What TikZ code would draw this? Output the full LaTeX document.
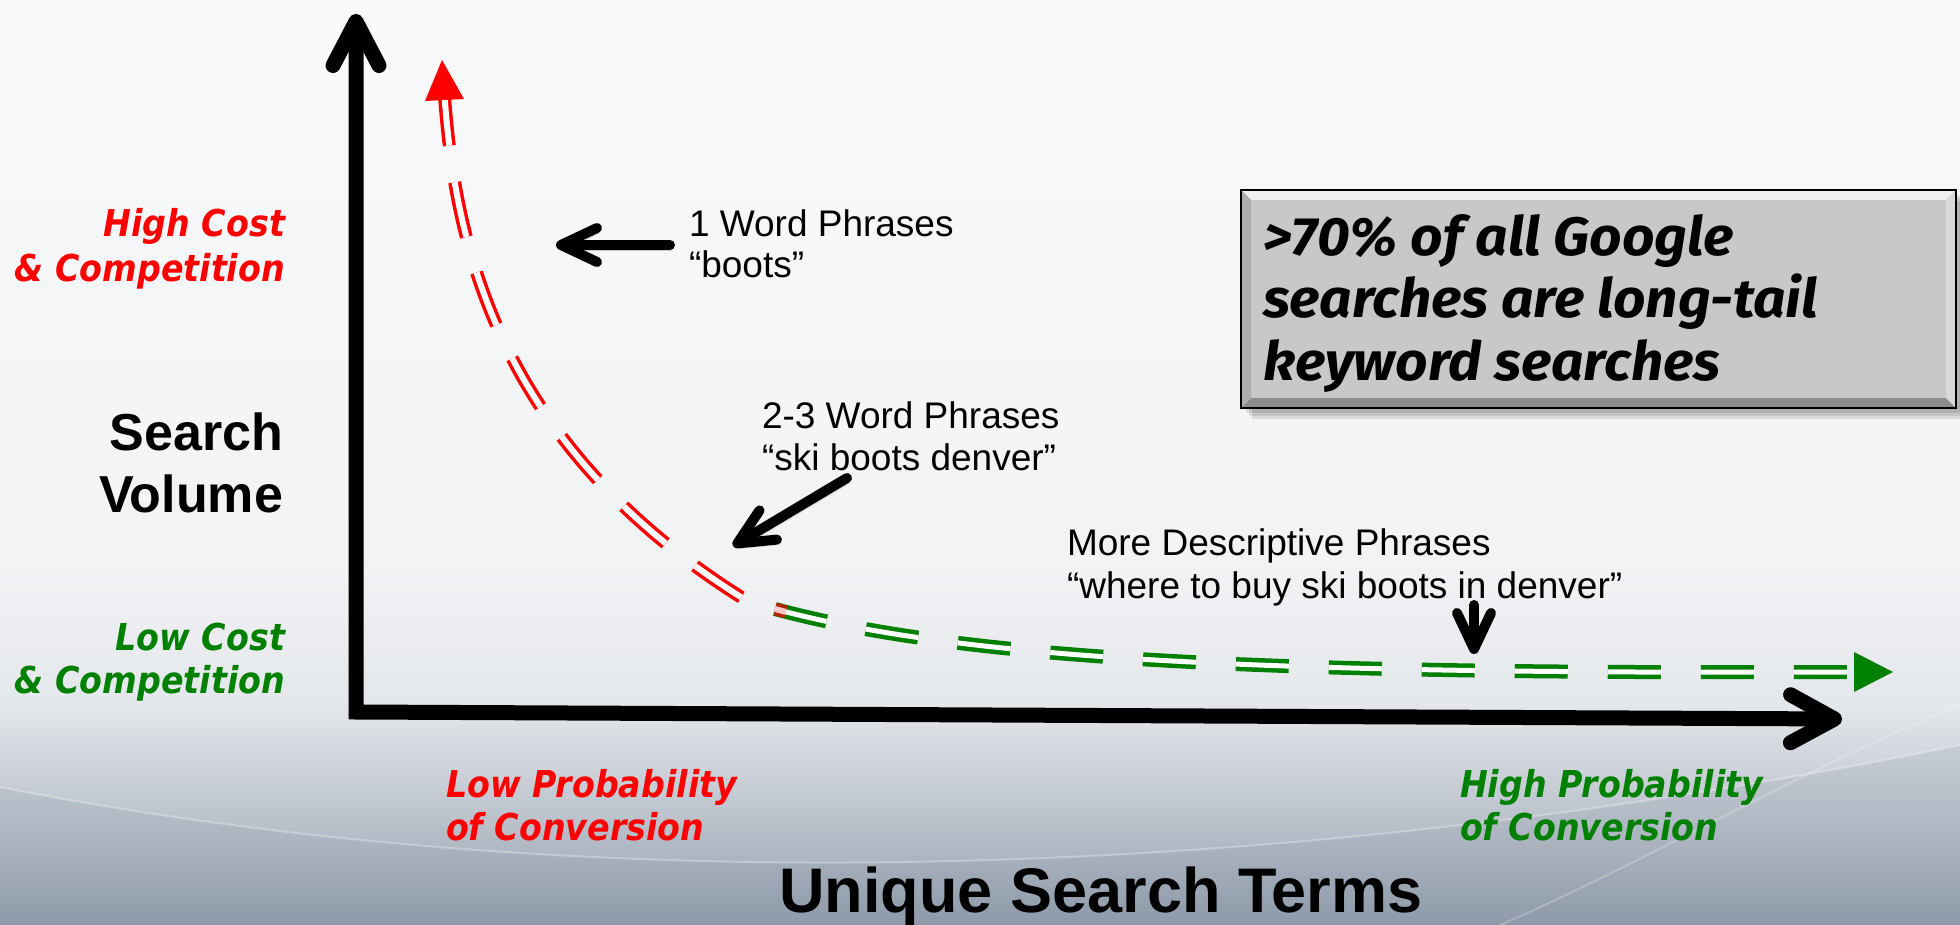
\documentclass[tikz,border=0pt]{standalone}
\usepackage{fontspec}
\setmainfont{Liberation Sans}
\newfontfamily\labfont[FakeStretch=0.9]{DejaVu Sans}
\newfontfamily\boxfont[FakeStretch=1.05]{Fira Sans}
\usetikzlibrary{arrows.meta,calc}
\definecolor{cred}{HTML}{FF0000}
\definecolor{cgreen}{HTML}{008000}
\definecolor{bgTop}{HTML}{F9FAFB}
\definecolor{bgBa}{HTML}{F2F3F5}
\definecolor{bgBb}{HTML}{E4E7EB}
\definecolor{bgBc}{HTML}{CACFD7}
\definecolor{bgBd}{HTML}{ABB4C0}
\definecolor{bgBot}{HTML}{8E9AAA}
\definecolor{boxgray}{HTML}{C8C8C8}
\pgfdeclareverticalshading{bgshade}{100bp}{color(0bp)=(bgBot); color(25bp)=(bgBot); color(28.5bp)=(bgBd); color(32.85bp)=(bgBc); color(37bp)=(bgBb); color(44.75bp)=(bgBa); color(75bp)=(bgTop); color(100bp)=(bgTop)}
\tikzset{
  lbl/.style={inner sep=0pt, outer sep=0pt},
  tagfont/.style={lbl, font=\labfont\bfseries\itshape\fontsize{37}{44}\selectfont},
  tagred/.style={tagfont, text=cred},
  taggreen/.style={tagfont, text=cgreen},
  phrase/.style={lbl, font=\fontsize{37}{42}\selectfont, align=left, anchor=base west},
  bigbold/.style={lbl, font=\bfseries\fontsize{52}{62}\selectfont},
  shadowed/.style={preaction={draw=black!22, transform canvas={xshift=3pt,yshift=-5pt}}},
  axisline/.style={line width=15pt, line join=miter, shadowed,
     {Straight Barb[length=44pt,width=46pt,round]}-{Straight Barb[length=44pt,width=48pt,round]}},
  callout/.style={line width=10pt, line cap=round, shadowed,
     -{Straight Barb[length=36pt,width=34pt,round]}},
  reddash/.style={draw=cred, line width=3.5pt, double=white, double distance=6pt,
     dash pattern=on 56pt off 37pt},
  greendash/.style={draw=cgreen, line width=4.5pt, double=white, double distance=5pt,
     dash pattern=on 53pt off 40pt},
}
\begin{document}
\begin{tikzpicture}[x=1pt,y=-1pt]
\useasboundingbox (0,0) rectangle (1960,925);
% background
\shade[shading=bgshade] (0,0) rectangle (1960,925);
\fill[bgBot, opacity=.2] (0,787) .. controls (600,905) and (1300,880) .. (1960,745) -- (1960,925) -- (0,925) -- cycle;
\draw[white, opacity=.3, line width=2pt] (0,787) .. controls (600,905) and (1300,880) .. (1960,745);
\draw[white, opacity=.22, line width=2pt] (1500,925) .. controls (1650,860) and (1800,770) .. (1960,705);

% grey box
\foreach \o in {5,8,11} {\fill[black, opacity=.1] (1241+\o,190+\o) rectangle (1956+\o,408+\o);}
\fill[boxgray] (1241,190) rectangle (1956,408);
\fill[white!94!black] (1241,190) -- (1956,190) -- (1946,200) -- (1251,200) -- cycle;
\fill[black!45] (1241,408) -- (1956,408) -- (1946,398) -- (1251,398) -- cycle;
\fill[black!32] (1241,190) -- (1251,200) -- (1251,398) -- (1241,408) -- cycle;
\fill[black!15] (1956,190) -- (1946,200) -- (1946,398) -- (1956,408) -- cycle;
\draw[black, line width=2.5pt] (1241,190) rectangle (1956,408);
\node[lbl, anchor=base west, align=left, font=\boxfont\bfseries\itshape\fontsize{54}{62.5}\selectfont] (stat) at (1263,380)
  {>70\% of all Google\\searches are long-tail\\keyword searches};

% labels (anchor = baseline of last line)
\node[tagred, anchor=base east, align=right, font=\labfont\bfseries\itshape\fontsize{37}{45}\selectfont] (hc) at (285,282) {High Cost\\\& Competition};
\node[taggreen, anchor=base east, align=right, font=\labfont\bfseries\itshape\fontsize{37}{43}\selectfont] (lc) at (285,693) {Low Cost\\\& Competition};
\node[bigbold, anchor=base east, align=right] (sv) at (283,512) {Search\\Volume};
\node[tagred, anchor=base west, align=left, font=\labfont\bfseries\itshape\fontsize{37}{43}\selectfont] (lp) at (446,840) {Low Probability\\of Conversion};
\node[taggreen, anchor=base west, align=left, font=\labfont\bfseries\itshape\fontsize{37}{43}\selectfont] (hp) at (1460,840) {High Probability\\of Conversion};
\node[lbl, anchor=base, font=\bfseries\fontsize{63}{70}\selectfont] (ust) at (1101,912) {Unique Search Terms};
\node[phrase, font=\fontsize{37}{41}\selectfont] (w1) at (689,278) {1 Word Phrases\\“boots”};
\node[phrase] (w2) at (762,470) {2-3 Word Phrases\\“ski boots denver”};
\node[phrase, font=\fontsize{37}{43}\selectfont] (w3) at (1067,598) {More Descriptive Phrases\\“where to buy ski boots in denver”};

% curve
\coordinate (rtop) at (442,60);
\coordinate (rbot) at (752,604);
\coordinate (gstart) at (775,609);
\coordinate (gend) at (1854,672);
\coordinate (gtip) at (1893,672);
\draw[reddash, shorten <=30pt] (rtop) .. controls (455,250) and (500,450) .. (rbot);
\fill[cred] (rtop) -- (425,101) -- (464,99) -- cycle;
\draw[greendash] (gstart) .. controls (975,663) and (1300,674) .. (gend);
\draw[draw=cred, line width=3.5pt, double=white, double distance=6pt, opacity=.7] (gstart) -- (786,612);
\fill[cgreen] (gtip) -- (1854,652) -- (1854,692) -- cycle;

% axes
\coordinate (ytip) at (356,14);
\coordinate (corner) at (356,712);
\coordinate (xtip) at (1842,719);
\draw[axisline] (ytip) -- (corner) -- (xtip);

% callout arrows
\coordinate (a1tail) at (670,245);
\coordinate (a1tip) at (556,245);
\coordinate (a2tail) at (847,478);
\coordinate (a2tip) at (733,546);
\coordinate (a3tail) at (1474,605);
\coordinate (a3tip) at (1474,654);
\draw[callout] (a1tail) -- (a1tip);
\draw[callout] (a2tail) -- (a2tip);
\draw[callout] (a3tail) -- (a3tip);
\end{tikzpicture}
\end{document}
